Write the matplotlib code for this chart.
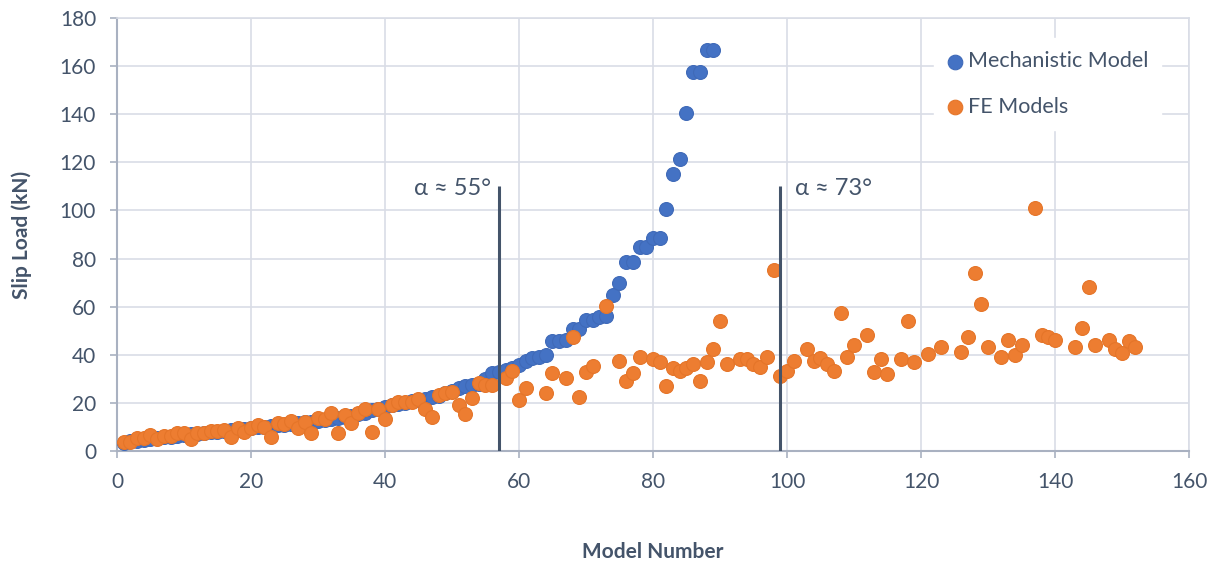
import matplotlib
matplotlib.use('Agg')
import matplotlib.pyplot as plt

plt.rcParams['font.family'] = ['Lato', 'DejaVu Sans']

# Mechanistic model: models 1..89
mech_x = list(range(1, 90))
mech_y = [3.5, 4.0, 4.3, 4.7, 5.0, 5.3, 5.7, 6.0, 6.3, 6.6,
          6.9, 7.2, 7.5, 7.8, 8.0, 8.3, 8.6, 8.9, 9.2, 9.5,
          9.8, 10.1, 10.4, 10.7, 11.0, 11.3, 11.6, 11.9, 12.2, 12.5,
          12.9, 13.3, 13.7, 14.1, 14.6, 15.2, 16.0, 17.0, 17.6, 18.3,
          19.0, 19.6, 20.1, 20.6, 21.2, 21.8, 22.6, 23.0, 24.0, 25.0,
          26.2, 27.0, 27.6, 28.0, 30.0, 32.3, 33.0, 33.7, 34.4, 35.7,
          37.5, 38.5, 39.2, 39.9, 45.8, 45.8, 46.0, 50.7, 50.7, 54.4,
          54.4, 55.8, 56.1, 64.8, 69.7, 78.4, 78.4, 85.0, 85.0, 88.5,
          88.5, 100.7, 115.3, 121.2, 140.6, 157.5, 157.5, 166.7, 166.7]

# FE models
fe_x = [1, 2, 3, 4, 5, 6, 7, 8, 9, 10,
        11, 12, 13, 14, 15, 16, 17, 18, 19, 20,
        21, 22, 23, 24, 25, 26, 27, 28, 29, 30,
        31, 32, 33, 34, 35, 36, 37, 38, 39, 40,
        41, 42, 43, 44, 45, 46, 47, 48, 49, 50,
        51, 52, 53, 54, 55, 56, 58, 59, 60, 61,
        64, 65, 67, 68, 69, 70, 71, 73, 75, 76,
        77, 78, 80, 81, 82, 83, 84, 85, 86, 87,
        88, 89, 90, 91, 93, 94, 95, 96, 97, 98,
        99, 100, 101, 103, 104, 105, 106, 107, 108, 109,
        110, 112, 113, 114, 115, 117, 118, 119, 121, 123,
        126, 127, 128, 129, 130, 132, 133, 134, 135, 137,
        138, 139, 140, 143, 144, 145, 146, 148, 149, 150,
        151, 152]
fe_y = [3.9, 3.9, 5.3, 5.3, 6.6, 4.9, 6.2, 6.2, 7.3, 7.3,
        4.9, 7.3, 7.3, 8.4, 8.4, 8.7, 5.9, 9.7, 8.0, 9.4,
        10.8, 10.1, 5.9, 11.5, 11.1, 12.6, 9.7, 12.2, 7.3, 13.6,
        13.2, 15.6, 7.3, 15.0, 11.8, 15.6, 17.3, 8.0, 17.3, 13.2,
        19.1, 20.5, 20.5, 20.5, 21.5, 17.3, 14.3, 23.3, 24.2, 24.6,
        19.1, 15.3, 22.2, 28.1, 27.4, 27.4, 30.2, 33.4, 21.2, 26.3,
        24.2, 32.3, 30.2, 47.3, 22.3, 33.0, 35.3, 60.3, 37.3, 29.1,
        32.3, 39.2, 38.1, 37.1, 27.2, 34.4, 33.2, 34.4, 36.3, 29.1,
        37.1, 42.3, 54.2, 36.2, 38.1, 38.1, 36.2, 35.0, 39.2, 75.2,
        31.2, 33.4, 37.3, 42.3, 37.3, 38.5, 36.0, 33.2, 57.2, 39.2,
        44.1, 48.2, 33.0, 38.1, 32.0, 38.1, 54.2, 37.1, 40.2, 43.1,
        41.1, 47.3, 74.1, 61.1, 43.1, 38.9, 46.1, 39.9, 44.1, 101.0,
        48.2, 47.3, 46.1, 43.1, 51.0, 68.0, 44.1, 46.1, 42.3, 40.9,
        45.8, 43.1]

line_x = [57, 99]
line_top = 110
line_labels = ['\u03b1 \u2248 55\u00b0', '\u03b1 \u2248 73\u00b0']

fig = plt.figure(figsize=(12.17, 5.62), dpi=100)
ax = fig.add_axes([0.0961, 0.1975, 0.8809, 0.7705])

grid_c = '#D9DDE6'
axis_c = '#A9B1C1'
text_c = '#44546A'

ax.scatter(mech_x, mech_y, s=100, color='#4472C4', edgecolors='#3F6AB8',
           linewidths=0.8, zorder=3, label='Mechanistic Model')
ax.scatter(fe_x, fe_y, s=100, color='#ED7D31', edgecolors='#E57529',
           linewidths=0.8, zorder=4, label='FE Models')

# Vertical separators with angle labels
ax.vlines(line_x, 0, line_top, colors='#44546A', linewidth=2.2, zorder=5)
ax.text(line_x[0] - 1.2, 109, line_labels[0], ha='right', va='center',
        fontsize=17, color=text_c)
ax.text(line_x[1] + 2.2, 109, line_labels[1], ha='left', va='center',
        fontsize=17, color=text_c)

ax.set_xlim(0, 160)
ax.set_ylim(0, 180)
ax.set_xticks(range(0, 161, 20))
ax.set_yticks(range(0, 181, 20))
ax.grid(True, color=grid_c, linewidth=1.2, zorder=0)
ax.set_axisbelow(True)
for side in ['top', 'right']:
    ax.spines[side].set_color(grid_c)
    ax.spines[side].set_linewidth(1.2)
for side in ['left', 'bottom']:
    ax.spines[side].set_color(axis_c)
    ax.spines[side].set_linewidth(1.5)
ax.tick_params(axis='both', colors=axis_c, labelcolor=text_c, labelsize=15,
               length=5, width=1.2, pad=10)

ax.set_xlabel('Model Number', fontsize=15, fontweight='bold', color=text_c,
              labelpad=36)
ax.set_ylabel('Slip Load (kN)', fontsize=15, fontweight='bold', color=text_c,
              labelpad=20)

leg = ax.legend(loc='upper right', bbox_to_anchor=(0.984, 0.978), frameon=True,
                fontsize=15.5, labelspacing=1.2, handlelength=0.7,
                handletextpad=0.25, markerscale=1.05, borderpad=0.6)
leg.get_frame().set_edgecolor('white')
leg.get_frame().set_facecolor('white')
leg.get_frame().set_alpha(1)
for t in leg.get_texts():
    t.set_color(text_c)

fig.savefig('out.png', dpi=100)
